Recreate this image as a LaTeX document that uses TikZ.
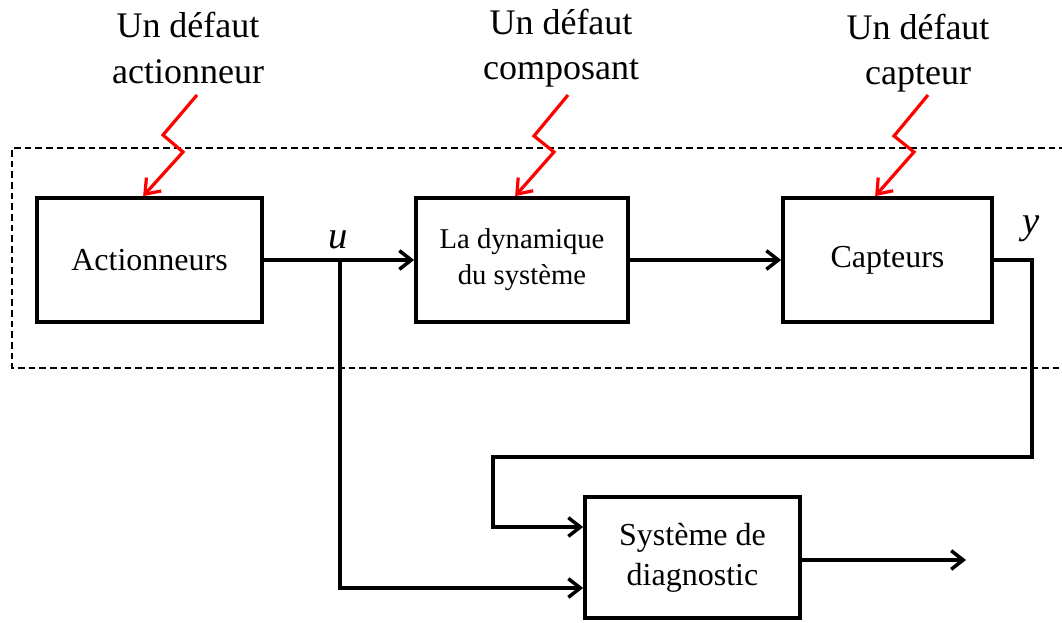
\documentclass[tikz,border=0pt]{standalone}
\usepackage{fontspec}
\setmainfont{Liberation Serif}
\usetikzlibrary{arrows.meta,calc}
\begin{document}
\begin{tikzpicture}[x=0.75pt,y=-0.75pt,
  blk/.style={draw,line width=2.8pt,inner sep=0pt,align=center,
    font=\fontsize{24}{30}\selectfont},
  lbl/.style={align=center,inner sep=0pt,font=\fontsize{27}{34}\selectfont},
  sig/.style={font=\fontsize{29}{30}\selectfont\itshape,inner sep=0pt},
  wire/.style={line width=2.8pt,-{Straight Barb[length=9pt,width=14pt,line width=2.6pt]}},
  bolt/.style={red,line width=2.4pt,line join=miter,
    -{Straight Barb[length=10pt,width=15pt,line width=2.4pt]}},
  frame/.style={line width=1.8pt,dash pattern=on 5pt off 3pt}]
\useasboundingbox (0,0) rectangle (1062,623);

% system boundary
\draw[frame] (1066,148) -- (12,148) -- (12,368) -- (1066,368);

% blocks
\node[blk,minimum width=168.75pt,minimum height=93pt] (act) at (149.5,260) {Actionneurs};
\node[blk,minimum width=159pt,minimum height=93pt,font=\fontsize{21.5}{27}\selectfont] (dyn) at (522,260) {La dynamique\\du système};
\node[blk,minimum width=156.75pt,minimum height=93pt] (cap) at (887.5,260) {Capteurs};
\node[blk,minimum width=161.25pt,minimum height=90.75pt] (diag) at (692.5,557.5) {Système de\\diagnostic};

% fault labels
\node[lbl] (fa) at (188,48) {Un défaut\\actionneur};
\node[lbl] (fc) at (561,48) {Un défaut\\composant};
\node[lbl] (fs) at (918,53) {Un défaut\\capteur};

% fault bolts
\coordinate (ba) at (197,95);
\coordinate (bc) at (568,95);
\coordinate (bs) at (928,95);
\coordinate (ta) at ($(act.north west)+(108,0)$);
\coordinate (tc) at ($(dyn.north west)+(101,0)$);
\coordinate (ts) at ($(cap.north west)+(94,0)$);
\draw[bolt] (ba) -- (163,135) -- (183,152) -- (ta);
\draw[bolt] (bc) -- (534,136) -- (554,152) -- (tc);
\draw[bolt] (bs) -- (894,136) -- (914,152) -- (ts);

% signal flow
\draw[wire] (act.east) -- (dyn.west);
\draw[wire] (dyn.east) -- (cap.east -| cap.west);
\coordinate (ub) at (act.east -| 340,0);
\node[sig] (u) at (338,240) {u};
\draw[wire] (ub) |- ($(diag.west)+(0,30.5)$);

\node[sig] (y) at (1031,229) {y};
\draw[wire] (cap.east) -| (1032,457) -| (493,527) -- ($(diag.west)+(0,-30.5)$);

\coordinate (out) at (966,560);
\draw[wire] ($(diag.east)+(0,2.5)$) -- (out);
\end{tikzpicture}
\end{document}
